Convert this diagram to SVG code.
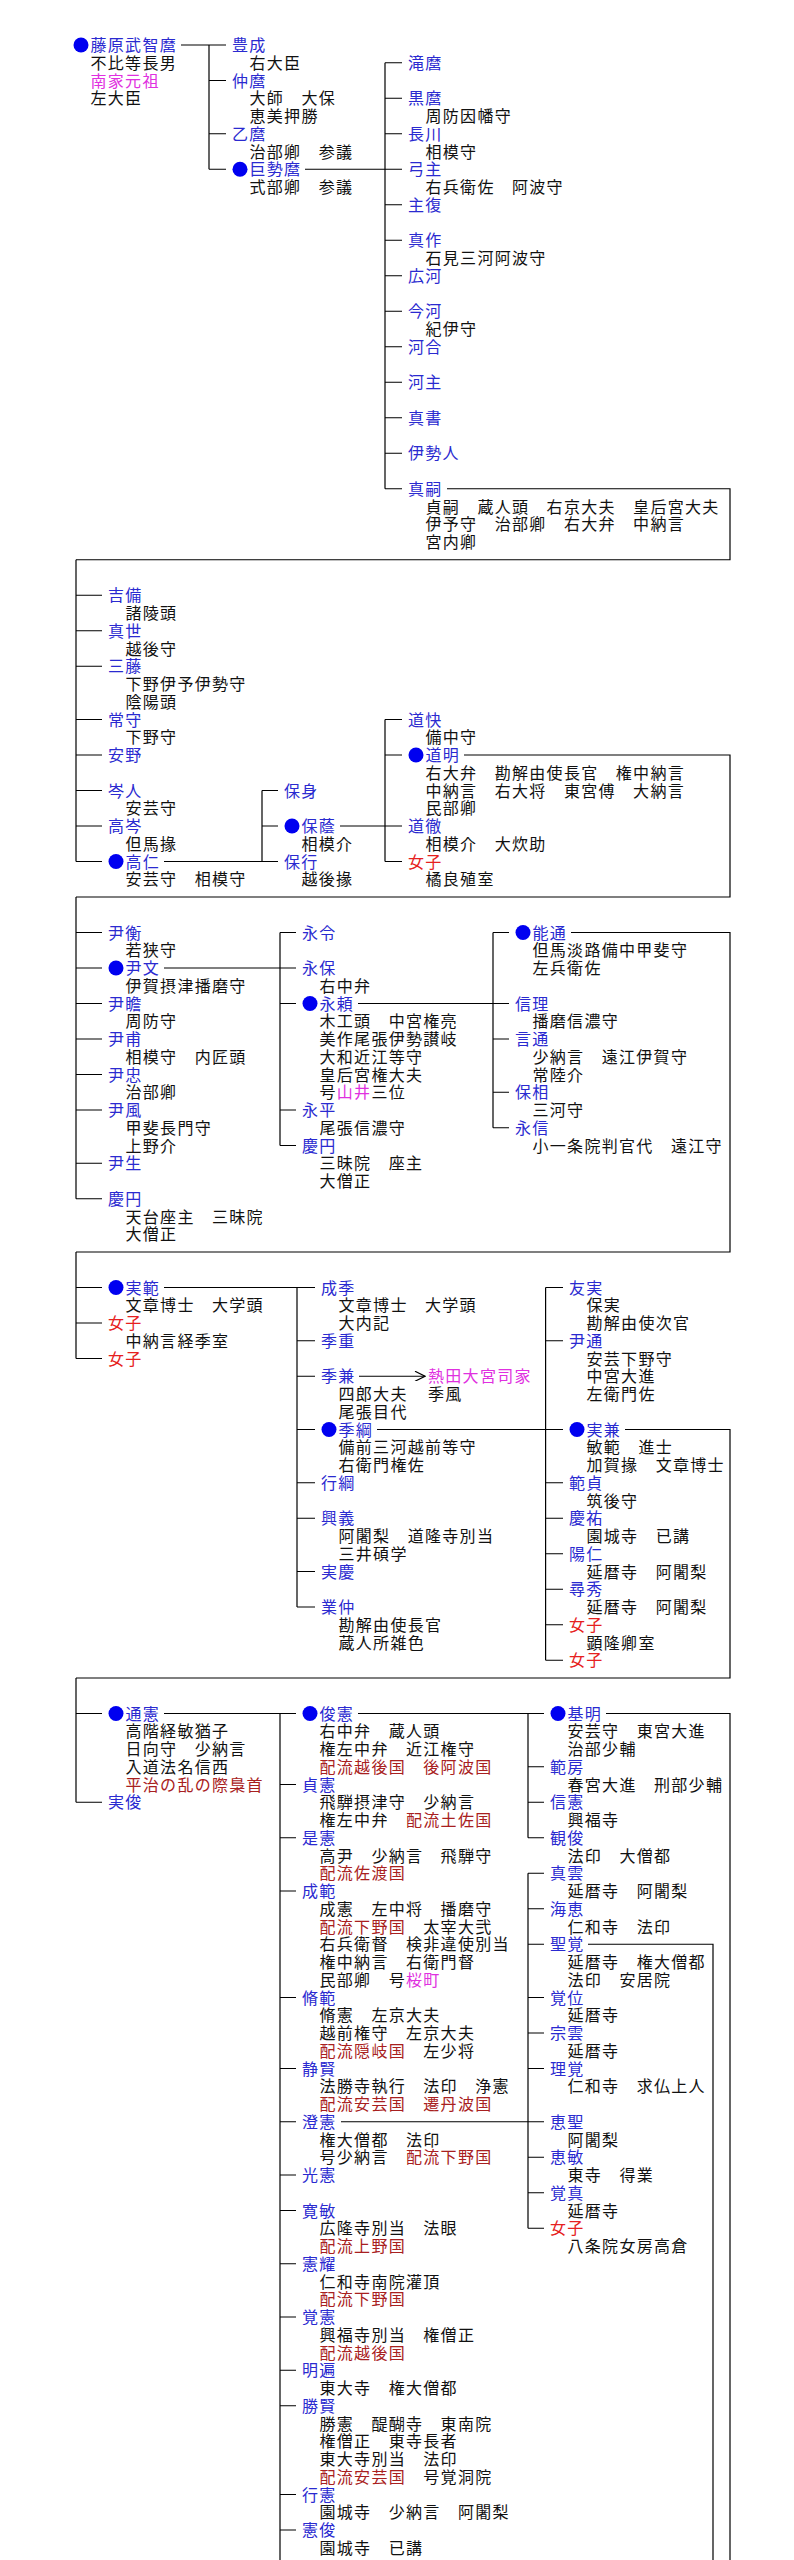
<svg xmlns="http://www.w3.org/2000/svg" width="794" height="2560" viewBox="0 0 794 2560">
<defs>
<style>
text { font-family: "Noto Sans CJK JP", "Noto Sans CJK SC", sans-serif; font-size: 16px; letter-spacing: 1.3px; }
.nm { fill: #2a2ad0; }
.ds { fill: #111111; }
.f { fill: #e62020; }
.dr { fill: #a82020; }
.pk { fill: #e030e0; }
.dot { fill: #0000f0; }
#connectors path { stroke: #000000; stroke-width: 1.2; fill: none; }
</style>
<marker id="arr" viewBox="0 0 10 10" refX="10" refY="5" markerUnits="userSpaceOnUse" markerWidth="12" markerHeight="10" orient="auto">
<path d="M0,0 L10,5 L0,10" fill="none" stroke="#000000" stroke-width="1.2"/>
</marker>
</defs>
<rect x="0" y="0" width="794" height="2560" fill="#ffffff"/>

<g id="connectors">
<!-- section 1 -->
<path d="M181 45H226 M209 45V169.25 M209 80.5H226 M209 133.75H226 M209 169.25H226"/>
<path d="M305 169.25H402 M385 62.75V488.75 M385 62.75H402 M385 98.25H402 M385 133.75H402 M385 204.75H402 M385 240.25H402 M385 275.75H402 M385 311.25H402 M385 346.75H402 M385 382.25H402 M385 417.75H402 M385 453.25H402 M385 488.75H402"/>
<path d="M447 488.75H730V559.75H76"/>
<!-- section 2 -->
<path d="M76 559.75V861.5 M76 595.25H102 M76 630.75H102 M76 666.25H102 M76 719.5H102 M76 755H102 M76 790.5H102 M76 826H102 M76 861.5H102"/>
<path d="M164 861.5H278 M262 790.5V861.5 M262 790.5H278 M262 826H278"/>
<path d="M340 826H402 M385 719.5V861.5 M385 719.5H402 M385 755H402 M385 861.5H402"/>
<path d="M464 755H730V897H76"/>
<!-- section 3 -->
<path d="M76 897V1198.75 M76 932.5H102 M76 968H102 M76 1003.5H102 M76 1039H102 M76 1074.5H102 M76 1110H102 M76 1163.25H102 M76 1198.75H102"/>
<path d="M164 968H296 M280 932.5V1145.5 M280 932.5H296 M280 1003.5H296 M280 1110H296 M280 1145.5H296"/>
<path d="M358 1003.5H509 M493 932.5V1127.75 M493 932.5H509 M493 1039H509 M493 1092.25H509 M493 1127.75H509"/>
<path d="M571 932.5H730V1252H76"/>
<!-- section 4 -->
<path d="M76 1252V1358.5 M76 1287.5H102 M76 1323H102 M76 1358.5H102"/>
<path d="M164 1287.5H315 M297 1287.5V1607 M297 1340.75H315 M297 1376.25H315 M297 1429.5H315 M297 1482.75H315 M297 1518.25H315 M297 1571.5H315 M297 1607H315"/>
<path d="M359 1376.25H425" marker-end="url(#arr)"/>
<path d="M377 1429.5H563 M545.6 1287.5V1660.25 M545.6 1287.5H563 M545.6 1340.75H563 M545.6 1482.75H563 M545.6 1518.25H563 M545.6 1553.75H563 M545.6 1589.25H563 M545.6 1624.75H563 M545.6 1660.25H563"/>
<path d="M625 1429.5H730V1678H76"/>
<!-- section 5 -->
<path d="M76 1678V1802.25 M76 1713.5H102 M76 1802.25H102"/>
<path d="M164 1713.5H296 M280 1713.5V2560 M280 1784.5H296 M280 1837.75H296 M280 1891H296 M280 1997.5H296 M280 2068.5H296 M280 2121.75H296 M280 2175H296 M280 2210.5H296 M280 2263.75H296 M280 2317H296 M280 2370.25H296 M280 2405.75H296 M280 2494.5H296 M280 2530H296"/>
<path d="M358 1713.5H544 M528 1713.5V1837.75 M528 1766.75H544 M528 1802.25H544 M528 1837.75H544"/>
<path d="M341 2121.75H544 M528 1873.25V2228.25 M528 1873.25H544 M528 1908.75H544 M528 1944.25H544 M528 1997.5H544 M528 2033H544 M528 2068.5H544 M528 2157.25H544 M528 2192.75H544 M528 2228.25H544"/>
<path d="M606 1713.5H730V2560 M588 1944.25H713V2560"/>
</g>

<!-- ===== Section 1 ===== -->
<g id="n-muchimaro"><circle class="dot" cx="81" cy="45" r="7.5"/><text class="nm" x="90.5" y="51">藤原武智麿</text><text class="ds" x="90.5" y="68.75">不比等長男</text><text class="pk" x="90.5" y="86.5">南家元祖</text><text class="ds" x="90.5" y="104.25">左大臣</text></g>
<g id="n-toyonari"><text class="nm" x="232" y="51">豊成</text><text class="ds" x="249.5" y="68.75">右大臣</text></g>
<g id="n-nakamaro"><text class="nm" x="232" y="86.5">仲麿</text><text class="ds" x="249.5" y="104.25">大師　大保</text><text class="ds" x="249.5" y="122">恵美押勝</text></g>
<g id="n-otomaro"><text class="nm" x="232" y="139.75">乙麿</text><text class="ds" x="249.5" y="157.5">治部卿　参議</text></g>
<g id="n-kosemaro"><circle class="dot" cx="240" cy="169.25" r="7.5"/><text class="nm" x="249.5" y="175.25">巨勢麿</text><text class="ds" x="249.5" y="193">式部卿　参議</text></g>
<g id="n-takimaro"><text class="nm" x="408" y="68.75">滝麿</text></g>
<g id="n-kuromaro"><text class="nm" x="408" y="104.25">黒麿</text><text class="ds" x="425.5" y="122">周防因幡守</text></g>
<g id="n-nagakawa"><text class="nm" x="408" y="139.75">長川</text><text class="ds" x="425.5" y="157.5">相模守</text></g>
<g id="n-yuminushi"><text class="nm" x="408" y="175.25">弓主</text><text class="ds" x="425.5" y="193">右兵衛佐　阿波守</text></g>
<g id="n-nushimata"><text class="nm" x="408" y="210.75">主復</text></g>
<g id="n-matsukuri"><text class="nm" x="408" y="246.25">真作</text><text class="ds" x="425.5" y="264">石見三河阿波守</text></g>
<g id="n-hirokawa"><text class="nm" x="408" y="281.75">広河</text></g>
<g id="n-imakawa"><text class="nm" x="408" y="317.25">今河</text><text class="ds" x="425.5" y="335">紀伊守</text></g>
<g id="n-kawai"><text class="nm" x="408" y="352.75">河合</text></g>
<g id="n-kawanushi"><text class="nm" x="408" y="388.25">河主</text></g>
<g id="n-managa"><text class="nm" x="408" y="423.75">真書</text></g>
<g id="n-isendo"><text class="nm" x="408" y="459.25">伊勢人</text></g>
<g id="n-matsugu"><text class="nm" x="408" y="494.75">真嗣</text><text class="ds" x="425.5" y="512.5">貞嗣　蔵人頭　右京大夫　皇后宮大夫</text><text class="ds" x="425.5" y="530.25">伊予守　治部卿　右大弁　中納言</text><text class="ds" x="425.5" y="548">宮内卿</text></g>

<!-- ===== Section 2 ===== -->
<g id="n-kibi"><text class="nm" x="108" y="601.25">吉備</text><text class="ds" x="125.5" y="619">諸陵頭</text></g>
<g id="n-maseo"><text class="nm" x="108" y="636.75">真世</text><text class="ds" x="125.5" y="654.5">越後守</text></g>
<g id="n-mifuji"><text class="nm" x="108" y="672.25">三藤</text><text class="ds" x="125.5" y="690">下野伊予伊勢守</text><text class="ds" x="125.5" y="707.75">陰陽頭</text></g>
<g id="n-tsunemori"><text class="nm" x="108" y="725.5">常守</text><text class="ds" x="125.5" y="743.25">下野守</text></g>
<g id="n-yasuno"><text class="nm" x="108" y="761">安野</text></g>
<g id="n-minehito"><text class="nm" x="108" y="796.5">岑人</text><text class="ds" x="125.5" y="814.25">安芸守</text></g>
<g id="n-takamine"><text class="nm" x="108" y="832">高岑</text><text class="ds" x="125.5" y="849.75">但馬掾</text></g>
<g id="n-takahito"><circle class="dot" cx="116" cy="861.5" r="7.5"/><text class="nm" x="125.5" y="867.5">高仁</text><text class="ds" x="125.5" y="885.25">安芸守　相模守</text></g>
<g id="n-yasumi"><text class="nm" x="284" y="796.5">保身</text></g>
<g id="n-yasukage"><circle class="dot" cx="292" cy="826" r="7.5"/><text class="nm" x="301.5" y="832">保蔭</text><text class="ds" x="301.5" y="849.75">相模介</text></g>
<g id="n-yasuyuki"><text class="nm" x="284" y="867.5">保行</text><text class="ds" x="301.5" y="885.25">越後掾</text></g>
<g id="n-michiyoshi"><text class="nm" x="408" y="725.5">道快</text><text class="ds" x="425.5" y="743.25">備中守</text></g>
<g id="n-michiakira"><circle class="dot" cx="416" cy="755" r="7.5"/><text class="nm" x="425.5" y="761">道明</text><text class="ds" x="425.5" y="778.75">右大弁　勘解由使長官　権中納言</text><text class="ds" x="425.5" y="796.5">中納言　右大将　東宮傅　大納言</text><text class="ds" x="425.5" y="814.25">民部卿</text></g>
<g id="n-michichika"><text class="nm" x="408" y="832">道徹</text><text class="ds" x="425.5" y="849.75">相模介　大炊助</text></g>
<g id="n-joshi1"><text class="f" x="408" y="867.5">女子</text><text class="ds" x="425.5" y="885.25">橘良殖室</text></g>

<!-- ===== Section 3 ===== -->
<g id="n-tadahira"><text class="nm" x="108" y="938.5">尹衡</text><text class="ds" x="125.5" y="956.25">若狭守</text></g>
<g id="n-tadafumi"><circle class="dot" cx="116" cy="968" r="7.5"/><text class="nm" x="125.5" y="974">尹文</text><text class="ds" x="125.5" y="991.75">伊賀摂津播磨守</text></g>
<g id="n-tadami"><text class="nm" x="108" y="1009.5">尹瞻</text><text class="ds" x="125.5" y="1027.25">周防守</text></g>
<g id="n-tadasuke"><text class="nm" x="108" y="1045">尹甫</text><text class="ds" x="125.5" y="1062.75">相模守　内匠頭</text></g>
<g id="n-tadatada"><text class="nm" x="108" y="1080.5">尹忠</text><text class="ds" x="125.5" y="1098.25">治部卿</text></g>
<g id="n-tadakaze"><text class="nm" x="108" y="1116">尹風</text><text class="ds" x="125.5" y="1133.75">甲斐長門守</text><text class="ds" x="125.5" y="1151.5">上野介</text></g>
<g id="n-tadaiki"><text class="nm" x="108" y="1169.25">尹生</text></g>
<g id="n-keien1"><text class="nm" x="108" y="1204.75">慶円</text><text class="ds" x="125.5" y="1222.5">天台座主　三昧院</text><text class="ds" x="125.5" y="1240.25">大僧正</text></g>
<g id="n-nagayoshi"><text class="nm" x="302" y="938.5">永令</text></g>
<g id="n-nagayasu"><text class="nm" x="302" y="974">永保</text><text class="ds" x="319.5" y="991.75">右中弁</text></g>
<g id="n-nagayori"><circle class="dot" cx="310" cy="1003.5" r="7.5"/><text class="nm" x="319.5" y="1009.5">永頼</text><text class="ds" x="319.5" y="1027.25">木工頭　中宮権亮</text><text class="ds" x="319.5" y="1045">美作尾張伊勢讃岐</text><text class="ds" x="319.5" y="1062.75">大和近江等守</text><text class="ds" x="319.5" y="1080.5">皇后宮権大夫</text><text class="ds" x="319.5" y="1098.25">号<tspan class="pk">山井</tspan>三位</text></g>
<g id="n-nagahira"><text class="nm" x="302" y="1116">永平</text><text class="ds" x="319.5" y="1133.75">尾張信濃守</text></g>
<g id="n-keien2"><text class="nm" x="302" y="1151.5">慶円</text><text class="ds" x="319.5" y="1169.25">三昧院　座主</text><text class="ds" x="319.5" y="1187">大僧正</text></g>
<g id="n-yoshimichi"><circle class="dot" cx="523" cy="932.5" r="7.5"/><text class="nm" x="532.5" y="938.5">能通</text><text class="ds" x="532.5" y="956.25">但馬淡路備中甲斐守</text><text class="ds" x="532.5" y="974">左兵衛佐</text></g>
<g id="n-nobumasa"><text class="nm" x="515" y="1009.5">信理</text><text class="ds" x="532.5" y="1027.25">播磨信濃守</text></g>
<g id="n-tokimichi"><text class="nm" x="515" y="1045">言通</text><text class="ds" x="532.5" y="1062.75">少納言　遠江伊賀守</text><text class="ds" x="532.5" y="1080.5">常陸介</text></g>
<g id="n-yasusuke"><text class="nm" x="515" y="1098.25">保相</text><text class="ds" x="532.5" y="1116">三河守</text></g>
<g id="n-naganobu"><text class="nm" x="515" y="1133.75">永信</text><text class="ds" x="532.5" y="1151.5">小一条院判官代　遠江守</text></g>

<!-- ===== Section 4 ===== -->
<g id="n-sanenori"><circle class="dot" cx="116" cy="1287.5" r="7.5"/><text class="nm" x="125.5" y="1293.5">実範</text><text class="ds" x="125.5" y="1311.25">文章博士　大学頭</text></g>
<g id="n-joshi2"><text class="f" x="108" y="1329">女子</text><text class="ds" x="125.5" y="1346.75">中納言経季室</text></g>
<g id="n-joshi3"><text class="f" x="108" y="1364.5">女子</text></g>
<g id="n-narisue"><text class="nm" x="321" y="1293.5">成季</text><text class="ds" x="338.5" y="1311.25">文章博士　大学頭</text><text class="ds" x="338.5" y="1329">大内記</text></g>
<g id="n-sueshige"><text class="nm" x="321" y="1346.75">季重</text></g>
<g id="n-suekane"><text class="nm" x="321" y="1382.25">季兼</text><text class="ds" x="338.5" y="1400">四郎大夫</text><text class="ds" x="338.5" y="1417.75">尾張目代</text></g>
<g id="n-atsuta"><text class="pk" x="428" y="1382.25">熱田大宮司家</text><text class="ds" x="428" y="1400">季風</text></g>
<g id="n-suetsuna"><circle class="dot" cx="329" cy="1429.5" r="7.5"/><text class="nm" x="338.5" y="1435.5">季綱</text><text class="ds" x="338.5" y="1453.25">備前三河越前等守</text><text class="ds" x="338.5" y="1471">右衛門権佐</text></g>
<g id="n-yukitsuna"><text class="nm" x="321" y="1488.75">行綱</text></g>
<g id="n-kogi"><text class="nm" x="321" y="1524.25">興義</text><text class="ds" x="338.5" y="1542">阿闍梨　道隆寺別当</text><text class="ds" x="338.5" y="1559.75">三井碩学</text></g>
<g id="n-jikkei"><text class="nm" x="321" y="1577.5">実慶</text></g>
<g id="n-narinaka"><text class="nm" x="321" y="1613">業仲</text><text class="ds" x="338.5" y="1630.75">勘解由使長官</text><text class="ds" x="338.5" y="1648.5">蔵人所雑色</text></g>
<g id="n-tomozane"><text class="nm" x="569" y="1293.5">友実</text><text class="ds" x="586.5" y="1311.25">保実</text><text class="ds" x="586.5" y="1329">勘解由使次官</text></g>
<g id="n-tadamichi"><text class="nm" x="569" y="1346.75">尹通</text><text class="ds" x="586.5" y="1364.5">安芸下野守</text><text class="ds" x="586.5" y="1382.25">中宮大進</text><text class="ds" x="586.5" y="1400">左衛門佐</text></g>
<g id="n-sanekane"><circle class="dot" cx="577" cy="1429.5" r="7.5"/><text class="nm" x="586.5" y="1435.5">実兼</text><text class="ds" x="586.5" y="1453.25">敏範　進士</text><text class="ds" x="586.5" y="1471">加賀掾　文章博士</text></g>
<g id="n-norisada"><text class="nm" x="569" y="1488.75">範貞</text><text class="ds" x="586.5" y="1506.5">筑後守</text></g>
<g id="n-keiyu"><text class="nm" x="569" y="1524.25">慶祐</text><text class="ds" x="586.5" y="1542">園城寺　已講</text></g>
<g id="n-yonin"><text class="nm" x="569" y="1559.75">陽仁</text><text class="ds" x="586.5" y="1577.5">延暦寺　阿闍梨</text></g>
<g id="n-jinshu"><text class="nm" x="569" y="1595.25">尋秀</text><text class="ds" x="586.5" y="1613">延暦寺　阿闍梨</text></g>
<g id="n-joshi4"><text class="f" x="569" y="1630.75">女子</text><text class="ds" x="586.5" y="1648.5">顕隆卿室</text></g>
<g id="n-joshi5"><text class="f" x="569" y="1666.25">女子</text></g>

<!-- ===== Section 5 ===== -->
<g id="n-michinori"><circle class="dot" cx="116" cy="1713.5" r="7.5"/><text class="nm" x="125.5" y="1719.5">通憲</text><text class="ds" x="125.5" y="1737.25">高階経敏猶子</text><text class="ds" x="125.5" y="1755">日向守　少納言</text><text class="ds" x="125.5" y="1772.75">入道法名信西</text><text class="dr" x="125.5" y="1790.5">平治の乱の際梟首</text></g>
<g id="n-sanetoshi"><text class="nm" x="108" y="1808.25">実俊</text></g>
<g id="n-toshinori"><circle class="dot" cx="310" cy="1713.5" r="7.5"/><text class="nm" x="319.5" y="1719.5">俊憲</text><text class="ds" x="319.5" y="1737.25">右中弁　蔵人頭</text><text class="ds" x="319.5" y="1755">権左中弁　近江権守</text><text class="dr" x="319.5" y="1772.75">配流越後国　後阿波国</text></g>
<g id="n-sadanori"><text class="nm" x="302" y="1790.5">貞憲</text><text class="ds" x="319.5" y="1808.25">飛騨摂津守　少納言</text><text class="ds" x="319.5" y="1826">権左中弁　<tspan class="dr">配流土佐国</tspan></text></g>
<g id="n-korenori"><text class="nm" x="302" y="1843.75">是憲</text><text class="ds" x="319.5" y="1861.5">高尹　少納言　飛騨守</text><text class="dr" x="319.5" y="1879.25">配流佐渡国</text></g>
<g id="n-shigenori"><text class="nm" x="302" y="1897">成範</text><text class="ds" x="319.5" y="1914.75">成憲　左中将　播磨守</text><text class="ds" x="319.5" y="1932.5"><tspan class="dr">配流下野国</tspan>　太宰大弐</text><text class="ds" x="319.5" y="1950.25">右兵衛督　検非違使別当</text><text class="ds" x="319.5" y="1968">権中納言　右衛門督</text><text class="ds" x="319.5" y="1985.75">民部卿　号<tspan class="pk">桜町</tspan></text></g>
<g id="n-naganori"><text class="nm" x="302" y="2003.5">脩範</text><text class="ds" x="319.5" y="2021.25">脩憲　左京大夫</text><text class="ds" x="319.5" y="2039">越前権守　左京大夫</text><text class="ds" x="319.5" y="2056.75"><tspan class="dr">配流隠岐国</tspan>　左少将</text></g>
<g id="n-seiken"><text class="nm" x="302" y="2074.5">静賢</text><text class="ds" x="319.5" y="2092.25">法勝寺執行　法印　浄憲</text><text class="dr" x="319.5" y="2110">配流安芸国　遷丹波国</text></g>
<g id="n-choken"><text class="nm" x="302" y="2127.75">澄憲</text><text class="ds" x="319.5" y="2145.5">権大僧都　法印</text><text class="ds" x="319.5" y="2163.25">号少納言　<tspan class="dr">配流下野国</tspan></text></g>
<g id="n-koken"><text class="nm" x="302" y="2181">光憲</text></g>
<g id="n-kanbin"><text class="nm" x="302" y="2216.5">寛敏</text><text class="ds" x="319.5" y="2234.25">広隆寺別当　法眼</text><text class="dr" x="319.5" y="2252">配流上野国</text></g>
<g id="n-kenyo"><text class="nm" x="302" y="2269.75">憲耀</text><text class="ds" x="319.5" y="2287.5">仁和寺南院灌頂</text><text class="dr" x="319.5" y="2305.25">配流下野国</text></g>
<g id="n-kakuken"><text class="nm" x="302" y="2323">覚憲</text><text class="ds" x="319.5" y="2340.75">興福寺別当　権僧正</text><text class="dr" x="319.5" y="2358.5">配流越後国</text></g>
<g id="n-myohen"><text class="nm" x="302" y="2376.25">明遍</text><text class="ds" x="319.5" y="2394">東大寺　権大僧都</text></g>
<g id="n-shoken"><text class="nm" x="302" y="2411.75">勝賢</text><text class="ds" x="319.5" y="2429.5">勝憲　醍醐寺　東南院</text><text class="ds" x="319.5" y="2447.25">権僧正　東寺長者</text><text class="ds" x="319.5" y="2465">東大寺別当　法印</text><text class="ds" x="319.5" y="2482.75"><tspan class="dr">配流安芸国</tspan>　号覚洞院</text></g>
<g id="n-gyoken"><text class="nm" x="302" y="2500.5">行憲</text><text class="ds" x="319.5" y="2518.25">園城寺　少納言　阿闍梨</text></g>
<g id="n-kenshun"><text class="nm" x="302" y="2536">憲俊</text><text class="ds" x="319.5" y="2553.75">園城寺　已講</text></g>
<g id="n-motoakira"><circle class="dot" cx="558" cy="1713.5" r="7.5"/><text class="nm" x="567.5" y="1719.5">基明</text><text class="ds" x="567.5" y="1737.25">安芸守　東宮大進</text><text class="ds" x="567.5" y="1755">治部少輔</text></g>
<g id="n-norifusa"><text class="nm" x="550" y="1772.75">範房</text><text class="ds" x="567.5" y="1790.5">春宮大進　刑部少輔</text></g>
<g id="n-nobunori"><text class="nm" x="550" y="1808.25">信憲</text><text class="ds" x="567.5" y="1826">興福寺</text></g>
<g id="n-kanshun"><text class="nm" x="550" y="1843.75">観俊</text><text class="ds" x="567.5" y="1861.5">法印　大僧都</text></g>
<g id="n-shinun"><text class="nm" x="550" y="1879.25">真雲</text><text class="ds" x="567.5" y="1897">延暦寺　阿闍梨</text></g>
<g id="n-kaie"><text class="nm" x="550" y="1914.75">海恵</text><text class="ds" x="567.5" y="1932.5">仁和寺　法印</text></g>
<g id="n-seikaku"><text class="nm" x="550" y="1950.25">聖覚</text><text class="ds" x="567.5" y="1968">延暦寺　権大僧都</text><text class="ds" x="567.5" y="1985.75">法印　安居院</text></g>
<g id="n-kakui"><text class="nm" x="550" y="2003.5">覚位</text><text class="ds" x="567.5" y="2021.25">延暦寺</text></g>
<g id="n-soun"><text class="nm" x="550" y="2039">宗雲</text><text class="ds" x="567.5" y="2056.75">延暦寺</text></g>
<g id="n-rikaku"><text class="nm" x="550" y="2074.5">理覚</text><text class="ds" x="567.5" y="2092.25">仁和寺　求仏上人</text></g>
<g id="n-esho"><text class="nm" x="550" y="2127.75">恵聖</text><text class="ds" x="567.5" y="2145.5">阿闍梨</text></g>
<g id="n-ebin"><text class="nm" x="550" y="2163.25">恵敏</text><text class="ds" x="567.5" y="2181">東寺　得業</text></g>
<g id="n-kakushin"><text class="nm" x="550" y="2198.75">覚真</text><text class="ds" x="567.5" y="2216.5">延暦寺</text></g>
<g id="n-joshi6"><text class="f" x="550" y="2234.25">女子</text><text class="ds" x="567.5" y="2252">八条院女房高倉</text></g>
</svg>
